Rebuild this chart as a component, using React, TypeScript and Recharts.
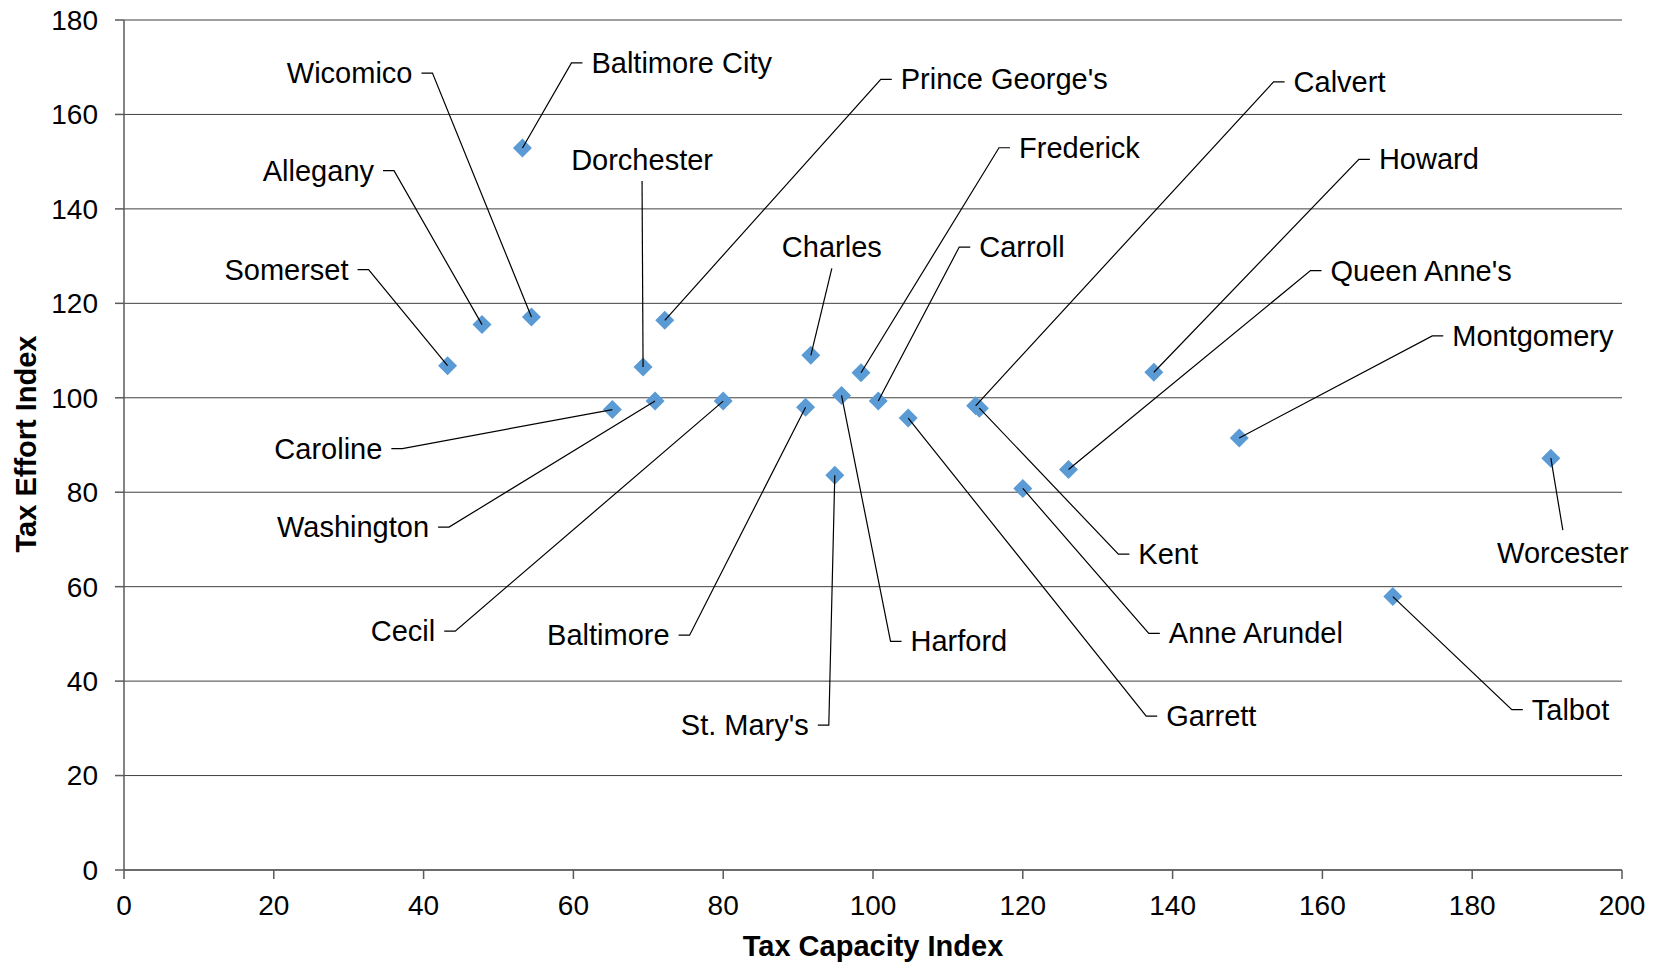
import React from 'react';
import { ScatterChart, Scatter, XAxis, YAxis, CartesianGrid } from 'recharts';

// ---- data ----
const counties = [
  'Allegany', 'Anne Arundel', 'Baltimore City', 'Baltimore', 'Calvert', 'Caroline',
  'Carroll', 'Cecil', 'Charles', 'Dorchester', 'Frederick', 'Garrett',
  'Harford', 'Howard', 'Kent', 'Montgomery', "Prince George's", "Queen Anne's",
  "St. Mary's", 'Somerset', 'Talbot', 'Washington', 'Wicomico', 'Worcester',
];
const taxCapacity = [
  47.8, 120.0, 53.2, 91.0, 113.7, 65.2,
  100.7, 80.0, 91.7, 69.3, 98.4, 104.7,
  95.8, 137.5, 114.2, 148.9, 72.2, 126.1,
  94.9, 43.2, 169.4, 70.9, 54.4, 190.5,
];
const taxEffort = [
  115.5, 80.8, 152.9, 98.0, 98.3, 97.5,
  99.3, 99.3, 109.0, 106.5, 105.3, 95.7,
  100.5, 105.4, 97.8, 91.5, 116.4, 84.8,
  83.6, 106.8, 57.9, 99.3, 117.1, 87.2,
];
const xTicks = [0, 20, 40, 60, 80, 100, 120, 140, 160, 180, 200];
const yTicks = [0, 20, 40, 60, 80, 100, 120, 140, 160, 180];
const xTitle = 'Tax Capacity Index';
const yTitle = 'Tax Effort Index';

// ---- label layout (pixel offset of leader elbow from marker, and text side) ----
type Side = 'left' | 'right' | 'top' | 'bottom';
const labelLayout: Record<string, [number, number, Side]> = {
  'Wicomico': [-99, -244, 'left'],
  'Baltimore City': [49, -85, 'right'],
  "Prince George's": [216, -241, 'right'],
  'Calvert': [298, -324, 'right'],
  'Allegany': [-88, -154, 'left'],
  'Dorchester': [-1, -186, 'top'],
  'Frederick': [138, -225, 'right'],
  'Howard': [205, -213, 'right'],
  'Somerset': [-79, -96, 'left'],
  'Charles': [21, -87, 'top'],
  'Carroll': [81, -154, 'right'],
  "Queen Anne's": [242, -199, 'right'],
  'Montgomery': [193, -102, 'right'],
  'Caroline': [-210, 39, 'left'],
  'Washington': [-206, 126, 'left'],
  'Kent': [139, 146, 'right'],
  'Worcester': [12, 72, 'bottom'],
  'Talbot': [119, 113, 'right'],
  'Cecil': [-268, 230, 'left'],
  'Baltimore': [-116, 228, 'left'],
  'Harford': [49, 246, 'right'],
  'Anne Arundel': [126, 145, 'right'],
  'Garrett': [238, 298, 'right'],
  "St. Mary's": [-6, 250, 'left'],
};

const data = counties.map((name, i) => ({ name, x: taxCapacity[i], y: taxEffort[i] }));

const FONT = '"Liberation Sans", Arial, Helvetica, sans-serif';
const MARKER = '#5B9BD5';

const Diamond = (props: any) => {
  const { cx, cy } = props;
  if (cx == null || cy == null) return null;
  const r = 9.5;
  return (
    <path
      d={`M${cx},${cy - r}L${cx + r},${cy}L${cx},${cy + r}L${cx - r},${cy}Z`}
      fill={MARKER}
    />
  );
};

const LeaderLabel = (props: any) => {
  const { cx, cy, payload } = props;
  if (cx == null || cy == null || !payload) return null;
  const layout = labelLayout[payload.name];
  if (!layout) return null;
  const [dx, dy, side] = layout;
  const ex = cx + dx;
  const ey = cy + dy;
  const textProps = { fontFamily: FONT, fontSize: 29, fill: '#000' };
  if (side === 'left' || side === 'right') {
    const dir = side === 'right' ? 1 : -1;
    return (
      <g>
        <polyline
          points={`${cx},${cy} ${ex},${ey} ${ex + dir * 11},${ey}`}
          fill="none"
          stroke="#000"
          strokeWidth={1.2}
        />
        <text
          {...textProps}
          x={ex + dir * 20}
          y={ey}
          textAnchor={side === 'right' ? 'start' : 'end'}
          dominantBaseline="central"
        >
          {payload.name}
        </text>
      </g>
    );
  }
  const ty = side === 'top' ? ey - 11 : ey + 33;
  return (
    <g>
      <line x1={cx} y1={cy} x2={ex} y2={ey} stroke="#000" strokeWidth={1.2} />
      <text {...textProps} x={ex} y={ty} textAnchor="middle">
        {payload.name}
      </text>
    </g>
  );
};

const XTitle = (props: any) => {
  const vb = props.viewBox || { x: 124, y: 870, width: 1498, height: 94 };
  return (
    <text
      x={vb.x + vb.width / 2}
      y={vb.y + vb.height - 8}
      textAnchor="middle"
      fontFamily={FONT}
      fontSize={29}
      fontWeight="bold"
      fill="#000"
    >
      {xTitle}
    </text>
  );
};

const YTitle = (props: any) => {
  const vb = props.viewBox || { x: 0, y: 20, width: 124, height: 850 };
  const x = vb.x + 36;
  const y = vb.y + vb.height / 2 - 1;
  return (
    <text
      x={x}
      y={y}
      transform={`rotate(-90, ${x}, ${y})`}
      textAnchor="middle"
      fontFamily={FONT}
      fontSize={29}
      fontWeight="bold"
      fill="#000"
    >
      {yTitle}
    </text>
  );
};

const tickStyle = { fill: '#000', fontSize: 28, fontFamily: FONT };
const axisLineStyle = { stroke: '#5a5a5a', strokeWidth: 1.5 };

export default function App() {
  return (
    <div style={{ position: 'absolute', left: 0, top: 0, width: 1656, height: 964, background: '#fff' }}>
      <ScatterChart width={1656} height={964} margin={{ top: 20, right: 34, bottom: 0, left: 0 }}>
        <CartesianGrid vertical={false} stroke="#404040" strokeWidth={1} />
        <XAxis
          type="number"
          dataKey="x"
          domain={[0, 200]}
          ticks={xTicks}
          interval={0}
          height={94}
          tickSize={9}
          tickMargin={16}
          tick={tickStyle}
          axisLine={axisLineStyle}
          tickLine={axisLineStyle}
          label={<XTitle />}
        />
        <YAxis
          type="number"
          dataKey="y"
          domain={[0, 180]}
          ticks={yTicks}
          interval={0}
          width={124}
          tickSize={9}
          tickMargin={17}
          tick={tickStyle}
          axisLine={axisLineStyle}
          tickLine={axisLineStyle}
          label={<YTitle />}
        />
        <Scatter data={data} shape={<Diamond />} isAnimationActive={false} />
        <Scatter data={data} shape={<LeaderLabel />} isAnimationActive={false} />
      </ScatterChart>
    </div>
  );
}
